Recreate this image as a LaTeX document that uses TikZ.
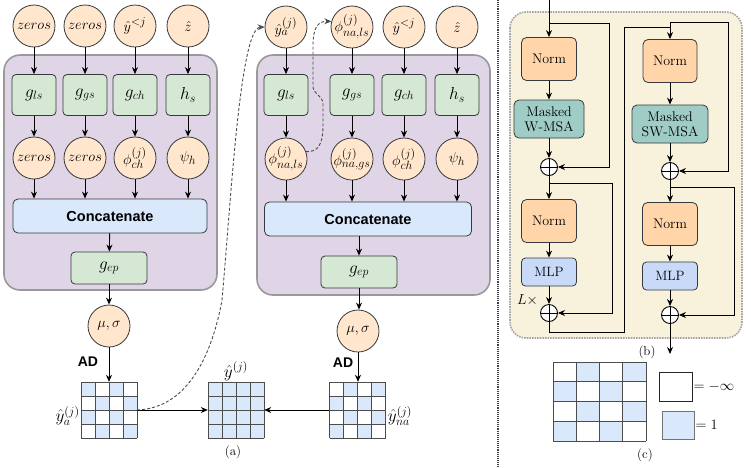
\documentclass[tikz,border=0pt]{standalone}
\usepackage{fontspec}
\newfontfamily\helv{Liberation Sans}
\usetikzlibrary{arrows.meta,calc}
\DeclareMathSizes{15}{15}{12}{9}
\DeclareMathSizes{17}{17}{12.5}{9.5}
\definecolor{peach}{HTML}{FFE6CC}
\definecolor{gfill}{HTML}{D5E8D4}
\definecolor{pfill}{HTML}{DFD5E6}
\definecolor{cellblue}{HTML}{DAE8FC}
\definecolor{dk}{HTML}{36393D}
\definecolor{bgcream}{HTML}{F8F1DC}
\definecolor{normfill}{HTML}{FFD5A9}
\definecolor{mskfill}{HTML}{A0CCC6}
\definecolor{mlpfill}{HTML}{C9DAF8}
\newcommand\fsz[1]{\fontsize{#1}{#1}\selectfont}
\newcommand{\checkgrid}[5]{%
  \fill[white] (#1,#2) rectangle ++({4*#3},{4*#4});
  \foreach \c/\r in {#5} \fill[cellblue] ({#1+\c*#3},{#2+\r*#4}) rectangle ++(#3,#4);
  \foreach \k in {0,...,4} {
    \draw[gridline] ({#1+\k*#3},#2) -- ++(0,{4*#4});
    \draw[gridline] (#1,{#2+\k*#4}) -- ++({4*#3},0);
  }
}
\begin{document}
\begin{tikzpicture}[x=1pt,y=-1pt,
  circ/.style={circle, draw=dk, fill=peach, line width=0.8pt, minimum size=42pt, inner sep=-4pt, font=\fsz{15}},
  gbox/.style={draw=dk, fill=gfill, rounded corners=4pt, minimum width=44pt, minimum height=41pt, line width=0.8pt, font=\fsz{17}},
  epbox/.style={draw=dk, fill=gfill, rounded corners=4pt, minimum width=76pt, minimum height=32pt, line width=0.8pt, font=\fsz{17}},
  catbox/.style={draw=dk, fill=cellblue, rounded corners=5pt, minimum height=34pt, line width=0.8pt, font=\helv\bfseries\fsz{14.5}},
  adlbl/.style={font=\helv\bfseries\fsz{14}},
  gridnode/.style={minimum width=56pt, minimum height=56pt, inner sep=0pt},
  gridline/.style={draw=black!70, line width=0.8pt},
  ppanel/.style={draw=black!40, fill=pfill, line width=1.6pt, rounded corners=16pt},
  bpanel/.style={draw=black!35, fill=bgcream, line width=1.6pt, densely dotted, rounded corners=16pt},
  arr/.style={-{Stealth[length=7pt,width=6pt]}, line width=0.9pt, draw=black},
  ln/.style={line width=0.9pt, draw=black},
  dsh/.style={dash pattern=on 3pt off 2pt, line width=0.9pt, draw=black!70, -{Stealth[length=7pt,width=6pt]}},
  normbox/.style={draw=dk, fill=normfill, rounded corners=5pt, minimum width=55pt, minimum height=43pt, line width=0.8pt, font=\fsz{14}},
  mskbox/.style={draw=dk, fill=mskfill, rounded corners=5pt, minimum width=70pt, minimum height=38pt, line width=0.8pt, font=\fontsize{14}{15}\selectfont, align=center, inner sep=1pt},
  mlpbox/.style={draw=dk, fill=mlpfill, rounded corners=4pt, minimum width=55pt, minimum height=28pt, line width=0.8pt, font=\fsz{13.5}},
  oplus/.style={circle, draw=black, fill=white, minimum size=17pt, inner sep=0pt, line width=0.9pt,
    path picture={\draw[line width=0.9pt] (path picture bounding box.north) -- (path picture bounding box.south) (path picture bounding box.west) -- (path picture bounding box.east);}},
  caplbl/.style={font=\fsz{13}},
  mlbl/.style={font=\fsz{17}, inner sep=1pt}
]
\useasboundingbox (0,0) rectangle (751,467);

% ---------- (a) panels ----------
\draw[ppanel] (4,55) rectangle (217,290);
\draw[ppanel] (257,55) rectangle (490,295);

% left panel
\node[circ] (lt1) at (34,26) {$zeros$};
\node[circ] (lt2) at (85,26) {$zeros$};
\node[circ] (lt3) at (135,26) {$\hat{y}^{<j}$};
\node[circ] (lt4) at (188,26) {$\hat{z}$};
\node[gbox] (lb1) at (34,95) {$g_{ls}$};
\node[gbox] (lb2) at (85,95) {$g_{gs}$};
\node[gbox] (lb3) at (135,95) {$g_{ch}$};
\node[gbox] (lb4) at (188,95) {$h_s$};
\node[circ] (lc1) at (34,158) {$zeros$};
\node[circ] (lc2) at (85,158) {$zeros$};
\node[circ] (lc3) at (135,158) {$\phi^{(j)}_{ch}$};
\node[circ] (lc4) at (188,158) {$\psi_h$};
\node[catbox, minimum width=194pt] (lcat) at (110,216) {Concatenate};
\node[epbox] (lgep) at (109,268) {$g_{ep}$};
\node[circ] (lms) at (109,326) {$\mu,\sigma$};
\node[adlbl] (lad) at (88,362) {AD};
\node[gridnode] (ga) at (109,410) {};
\foreach \i in {1,...,4} {
  \draw[arr] (lt\i) -- (lb\i);
  \draw[arr] (lb\i) -- (lc\i);
  \draw[arr] (lc\i.south) -- (lc\i.south |- lcat.north);
}
\draw[arr] (lcat) -- (lgep);
\draw[arr] (lgep) -- (lms);
\draw[arr] (lms) -- (ga);

% right panel
\node[circ] (rt1) at (286,27) {$\hat{y}_a^{(j)}$};
\node[circ] (rt2) at (352,27) {$\phi^{(j)}_{na,ls}$};
\node[circ] (rt3) at (404,27) {$\hat{y}^{<j}$};
\node[circ] (rt4) at (457,27) {$\hat{z}$};
\node[gbox] (rb1) at (286,95) {$g_{ls}$};
\node[gbox] (rb2) at (352,95) {$g_{gs}$};
\node[gbox] (rb3) at (404,95) {$g_{ch}$};
\node[gbox] (rb4) at (457,95) {$h_s$};
\node[circ] (rc1) at (286,159) {$\phi^{(j)}_{na,ls}$};
\node[circ] (rc2) at (352,159) {$\phi^{(j)}_{na,gs}$};
\node[circ] (rc3) at (404,159) {$\phi^{(j)}_{ch}$};
\node[circ] (rc4) at (457,159) {$\psi_h$};
\node[catbox, minimum width=207pt] (rcat) at (368,219) {Concatenate};
\node[epbox] (rgep) at (359,272) {$g_{ep}$};
\node[circ] (rms) at (358,331) {$\mu,\sigma$};
\node[adlbl] (rad) at (343,363) {AD};
\node[gridnode] (gna) at (357.5,410) {};
\foreach \i in {1,...,4} {
  \draw[arr] (rt\i) -- (rb\i);
  \draw[arr] (rb\i) -- (rc\i);
  \draw[arr] (rc\i.south) -- (rc\i.south |- rcat.north);
}
\draw[arr] (rgep.south |- rcat.south) -- (rgep);
\draw[arr] (rgep.south) -- (rgep.south |- rms.north);
\draw[arr] (rms.south) -- (rms.south |- gna.north);

% grids
\node[gridnode] (gy) at (236,410) {};
\checkgrid{81}{382}{14}{14}{0/0,2/0,1/1,3/1,0/2,2/2,1/3,3/3}
\checkgrid{329.5}{382}{14}{14}{1/0,3/0,0/1,2/1,1/2,3/2,0/3,2/3}
\checkgrid{208}{382}{14}{14}{0/0,1/0,2/0,3/0,0/1,1/1,2/1,3/1,0/2,1/2,2/2,3/2,0/3,1/3,2/3,3/3}
\node[mlbl, anchor=east] (lya) at ([yshift=-6pt]ga.west) {$\hat{y}_a^{(j)}$};
\node[mlbl, anchor=west] (lyna) at ([xshift=1pt,yshift=-6pt]gna.east) {$\hat{y}_{na}^{(j)}$};
\node[mlbl, anchor=south] (lyj) at (gy.north) {$\hat{y}^{(j)}$};
\node[caplbl] (capa) at (233,452) {(a)};

\draw[arr] (ga.east) -- (gy.west);
\draw[arr] (gna.west) -- (gy.east);

% dashed curves
\draw[dsh] (ga.east) .. controls (190,408) and (213,350) .. (222,300)
  .. controls (231,200) and (240,28) .. (rt1.west);
\draw[dsh] (rc1.20) .. controls (318,152) and (323,145) .. (323,125) -- (323,104)
  .. controls (323,95) and (313,95) .. (313,86) -- (313,45)
  .. controls (313,28) and (318,21) .. (rt2.165);

% separator
\draw[densely dotted, line width=1.1pt, black!75] (498,0) -- (498,467);

% ---------- (b) ----------
\draw[bpanel] (510,12) rectangle (742,338);
\node[normbox] (n1) at (549,59) {Norm};
\node[mskbox] (m1) at (549,119) {Masked\\W-MSA};
\node[oplus] (p1) at (549,167) {};
\node[normbox] (n2) at (549,221) {Norm};
\node[mlpbox] (mlp1) at (549,272) {MLP};
\node[oplus] (p2) at (549,313) {};
\node[font=\fsz{14}, anchor=east, inner sep=1pt] (lx) at (539,300) {$L\times$};
\node[normbox, minimum width=54pt] (n3) at (670,61) {Norm};
\node[mskbox, minimum width=76pt] (m2) at (670,124) {Masked\\SW-MSA};
\node[oplus] (p3) at (670,171) {};
\node[normbox] (n4) at (670,224) {Norm};
\node[mlpbox] (mlp2) at (670,276) {MLP};
\node[oplus] (p4) at (670,315) {};
\coordinate (bin) at (549,0);
\coordinate (bout) at (670,354);
\coordinate (b1) at (549,23);
\coordinate (b2) at (549,183);
\coordinate (b3) at (670,22);
\coordinate (b4) at (670,187);

\draw[arr] (bin) -- (n1);
\draw[arr] (b1) -- (609,23) -- (609,167) -- (p1.east);
\draw[arr] (n1) -- (m1);
\draw[arr] (m1) -- (p1);
\draw[arr] (p1) -- (n2);
\draw[arr] (b2) -- (612,183) -- (612,313) -- (p2.east);
\draw[arr] (n2) -- (mlp1);
\draw[arr] (mlp1) -- (p2);
\draw[ln] (p2.south) -- (549,332) -- (624,332) -- (624,27) -- (670,27);
\draw[arr] (b3) -- (n3);
\draw[arr] (b3) -- (728,22) -- (728,171) -- (p3.east);
\draw[arr] (n3) -- (m2);
\draw[arr] (m2) -- (p3);
\draw[arr] (p3) -- (n4);
\draw[arr] (b4) -- (734,187) -- (734,315) -- (p4.east);
\draw[arr] (n4) -- (mlp2);
\draw[arr] (mlp2) -- (p4);
\draw[arr] (p4) -- (bout);
\node[caplbl] (capb) at (647,352) {(b)};

% ---------- (c) ----------
\node[minimum width=93pt, minimum height=79pt, inner sep=0pt] (cgrid) at (599.5,401.5) {};
\checkgrid{553}{362}{23.25}{19.75}{1/0,3/0,0/1,2/1,1/2,3/2,0/3,2/3}
\node[draw=black!85, fill=white, minimum width=33pt, minimum height=29pt, inner sep=0pt, line width=0.9pt] (legw) at (675.5,386.5) {};
\node[mlbl, font=\fsz{15}, anchor=west] (legwt) at (legw.east) {$=-\infty$};
\node[draw=black!55, fill=cellblue, minimum width=32pt, minimum height=28pt, inner sep=0pt, line width=0.8pt] (legb) at (678,425) {};
\node[mlbl, font=\fsz{15}, anchor=west] (legbt) at (legb.east) {$=1$};
\node[caplbl] (capc) at (645,455) {(c)};
\end{tikzpicture}
\end{document}
